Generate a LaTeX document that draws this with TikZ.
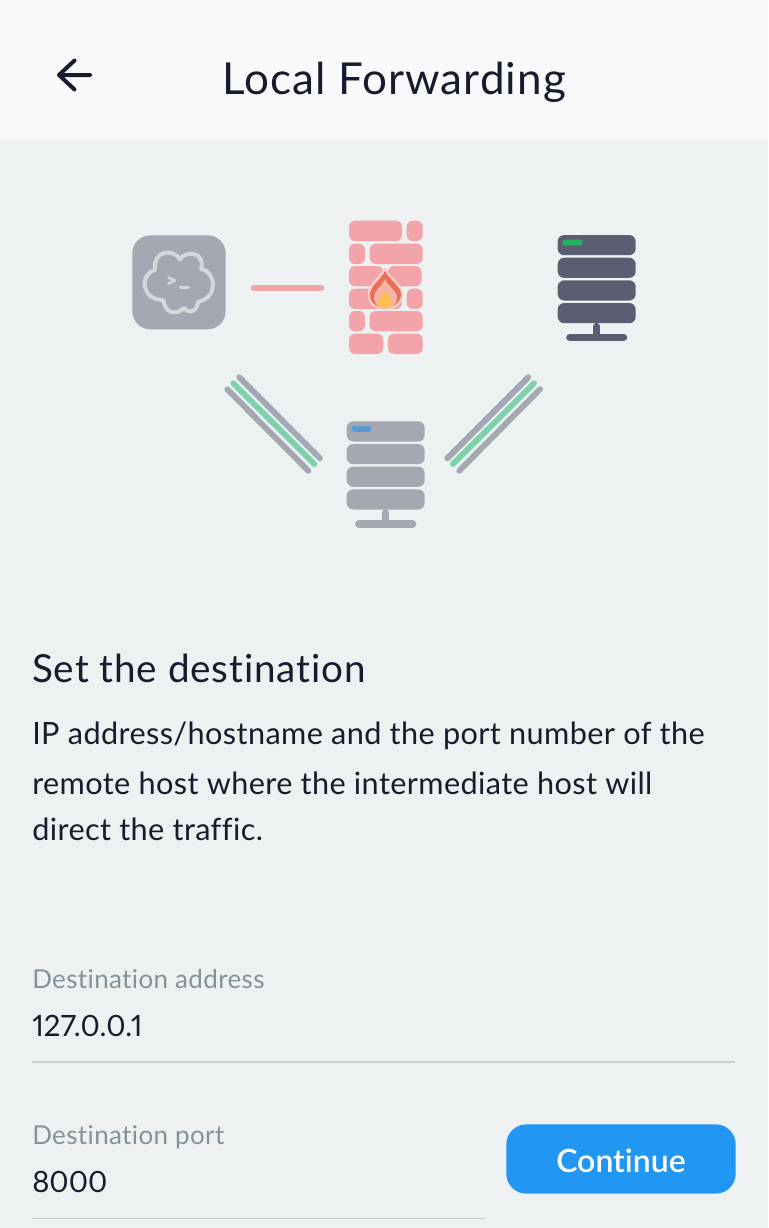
\documentclass[tikz,border=0pt]{standalone}
\usepackage{fontspec}
\setmainfont{Lato}[Ligatures=NoCommon,Numbers=Proportional]
\newfontfamily\mediumfont{Lato Semibold}[Ligatures=NoCommon]
\usepackage{tikz}

\definecolor{pagebg}{HTML}{EEF1F2}
\definecolor{headbg}{HTML}{F8F9FB}
\definecolor{inkdark}{HTML}{171B2E}
\definecolor{labelgray}{HTML}{84929B}
\definecolor{rulegray}{HTML}{C9D0D4}
\definecolor{bluebtn}{HTML}{2196F3}
\definecolor{rackgray}{HTML}{A3A8B2}
\definecolor{rackdark}{HTML}{5B5E72}
\definecolor{brickpink}{HTML}{F3A4A9}
\definecolor{linegreen}{HTML}{7FD1AB}
\definecolor{ledgreen}{HTML}{1FB35A}
\definecolor{ledblue}{HTML}{5B9BD5}
\definecolor{flameedge}{HTML}{F8CFC6}
\definecolor{flameouter}{HTML}{E8705A}
\definecolor{flameinner}{HTML}{F3B6A6}
\definecolor{flamecore}{HTML}{FBBF4D}

% one server rack, #1,#2 = top left corner
\newcommand{\serverrack}[4]{
    \foreach \dy in {0,22.7,45.3,68}
        \fill[#3, rounded corners=4.9pt] (#1,#2+\dy) rectangle ++(78,20.2);
    \fill[#4, rounded corners=2.2pt] (#1+4.5,#2+4.7) rectangle ++(20.5,5.8);
    \draw[#3, line width=5.4pt, line cap=round] (#1+39,#2+91.5) -- (#1+39,#2+101);
    \draw[#3, line width=5.8pt, line cap=round] (#1+12.3,#2+102.5) -- (#1+65.7,#2+102.5);
}

\begin{document}
\begin{tikzpicture}[x=0.75pt,y=-0.75pt,
        title text/.style={font=\fontsize{33}{36}\selectfont\addfontfeature{LetterSpace=2.5}, text=inkdark, anchor=base west, inner sep=0},
        body text/.style={font=\fontsize{23}{26}\selectfont\addfontfeature{LetterSpace=1.25}, text=inkdark, anchor=base west, inner sep=0},
        field label/.style={font=\fontsize{19.5}{22}\selectfont\addfontfeature{LetterSpace=1.4}, text=labelgray, anchor=base west, inner sep=0},
        field value/.style={font=\fontsize{22}{26}\selectfont, text=inkdark, anchor=base west, inner sep=0},
        field rule/.style={rulegray, line width=1pt},
        gray wire/.style={rackgray, line width=4.4pt, line cap=round},
        green wire/.style={linegreen, line width=4.4pt, line cap=round}]

    \useasboundingbox (0,0) rectangle (768,1228);
    \fill[pagebg] (0,0) rectangle (768,1228);
    \fill[headbg] (0,0) rectangle (768,140);

    % header
    \coordinate (backtip) at (59,75);
    \coordinate (backend) at (90,75);
    \draw[inkdark, line width=3pt, line cap=round, line join=round]
        (backend) -- (backtip) (74.5,60.5) -- (backtip) -- (74.5,89.5);
    \node[title text] (title) at (222,94) {Local Forwarding};

    % app icon
    \node[fill=rackgray, rounded corners=13.5pt, minimum width=70pt, minimum height=70.5pt, inner sep=0] (app) at (179,282.3) {};
    \draw[draw=rackgray!35!pagebg, line width=3pt, line join=round]
        (155,270) .. controls (153,249) and (174,249) .. (180,259.3)
        .. controls (186,250) and (206,252) .. (201,269)
        .. controls (217,272) and (218,298) .. (198.3,301.7)
        .. controls (196,314) and (187,313) .. (184,308)
        .. controls (175,316) and (165,313) .. (163.3,300)
        .. controls (141,300) and (139,274) .. (155,270) -- cycle;
    \draw[rackgray!35!pagebg, line width=2pt, line cap=round, line join=round]
        (168.5,277.5) -- (175,280.5) -- (168.5,283.5) (180,287.5) -- (188.5,287.5);

    % firewall
    \foreach \xa/\xb/\ya in {349/402/220.7, 406.7/422.7/220.7,
                             349/365/243.7, 369.7/422.7/243.7,
                             349/383/266, 388/421.5/266,
                             349/402/288.7, 406.7/422.7/288.7,
                             349/365/311, 369.7/422.7/311,
                             349/383.3/333.7, 388/422.7/333.7}
        \fill[brickpink, rounded corners=4.5pt] (\xa,\ya) rectangle (\xb,\ya+20.3);
    \fill[flameedge] (385,267) .. controls (379,279) and (366,284) .. (368,297)
        .. controls (369,305) and (376,310) .. (385,310)
        .. controls (394,310) and (402,305) .. (403,296)
        .. controls (404,284) and (391,279) .. (385,267) -- cycle;
    \fill[flameouter] (385,271) .. controls (380,281) and (369,286) .. (370,297)
        .. controls (371,303) and (377,308) .. (385,308)
        .. controls (393,308) and (400,303) .. (401,296)
        .. controls (402,286) and (390,281) .. (385,271) -- cycle;
    \fill[flameinner] (385,279) .. controls (382,287) and (373,291) .. (374,299)
        .. controls (375,305) and (380,308.5) .. (385,308.5)
        .. controls (391,308.5) and (396,305) .. (397,299)
        .. controls (398,291) and (388,287) .. (385,279) -- cycle;
    \fill[flamecore] (385,291) .. controls (383,295) and (378,298) .. (378,302)
        .. controls (378,306) and (381,308) .. (385,308)
        .. controls (389,308) and (392,306) .. (392,302)
        .. controls (392,298) and (387,295) .. (385,291) -- cycle;

    % server racks
    \serverrack{557.7}{235}{rackdark}{ledgreen}
    \serverrack{346.7}{421.3}{rackgray}{ledblue}

    % connectors
    \coordinate (appout) at (253.7,287.7);
    \coordinate (wallin) at (321.3,287.7);
    \draw[brickpink, line width=4.5pt, line cap=round] (appout) -- (wallin);

    \coordinate (la1) at (239.3,377.3); \coordinate (lb1) at (320,458.3);
    \coordinate (la2) at (233.3,383.3); \coordinate (lb2) at (314.3,464);
    \coordinate (la3) at (227.3,389.3); \coordinate (lb3) at (308.3,470.7);
    \coordinate (ra1) at (528.3,377.3); \coordinate (rb1) at (447.3,458.3);
    \coordinate (ra2) at (534,383.3);   \coordinate (rb2) at (453,464);
    \coordinate (ra3) at (540,389.3);   \coordinate (rb3) at (459.3,470.7);
    \draw[gray wire] (la1) -- (lb1);
    \draw[green wire] (la2) -- (lb2);
    \draw[gray wire] (la3) -- (lb3);
    \draw[gray wire] (ra1) -- (rb1);
    \draw[green wire] (ra2) -- (rb2);
    \draw[gray wire] (ra3) -- (rb3);

    % text
    \node[title text, font=\fontsize{29}{32}\selectfont\addfontfeature{LetterSpace=2.2}] (heading) at (32,682) {Set the destination};
    \node[body text] (line one) at (32,744) {IP address/hostname and the port number of the};
    \node[body text] (line two) at (32,794) {remote host where the intermediate host will};
    \node[body text] (line three) at (32,840) {direct the traffic.};

    % fields
    \node[field label] (addr label) at (32,988) {Destination address};
    \node[field value] (addr value) at (32,1036) {127.0.0.1};
    \coordinate (addr rule a) at (32,1062);
    \coordinate (addr rule b) at (735,1062);
    \draw[field rule] (addr rule a) -- (addr rule b);

    \node[field label] (port label) at (32,1144) {Destination port};
    \node[field value] (port value) at (32,1192) {8000};
    \coordinate (port rule a) at (32,1218.5);
    \coordinate (port rule b) at (486,1218.5);
    \draw[field rule] (port rule a) -- (port rule b);

    \node[fill=bluebtn, rounded corners=15pt, text=white, inner sep=0, text height=19.5pt, text depth=0pt,
        minimum width=172pt, minimum height=52pt, font=\fontsize{24}{28}\mediumfont\selectfont] (continue) at (621,1159) {Continue};
\end{tikzpicture}
\end{document}
